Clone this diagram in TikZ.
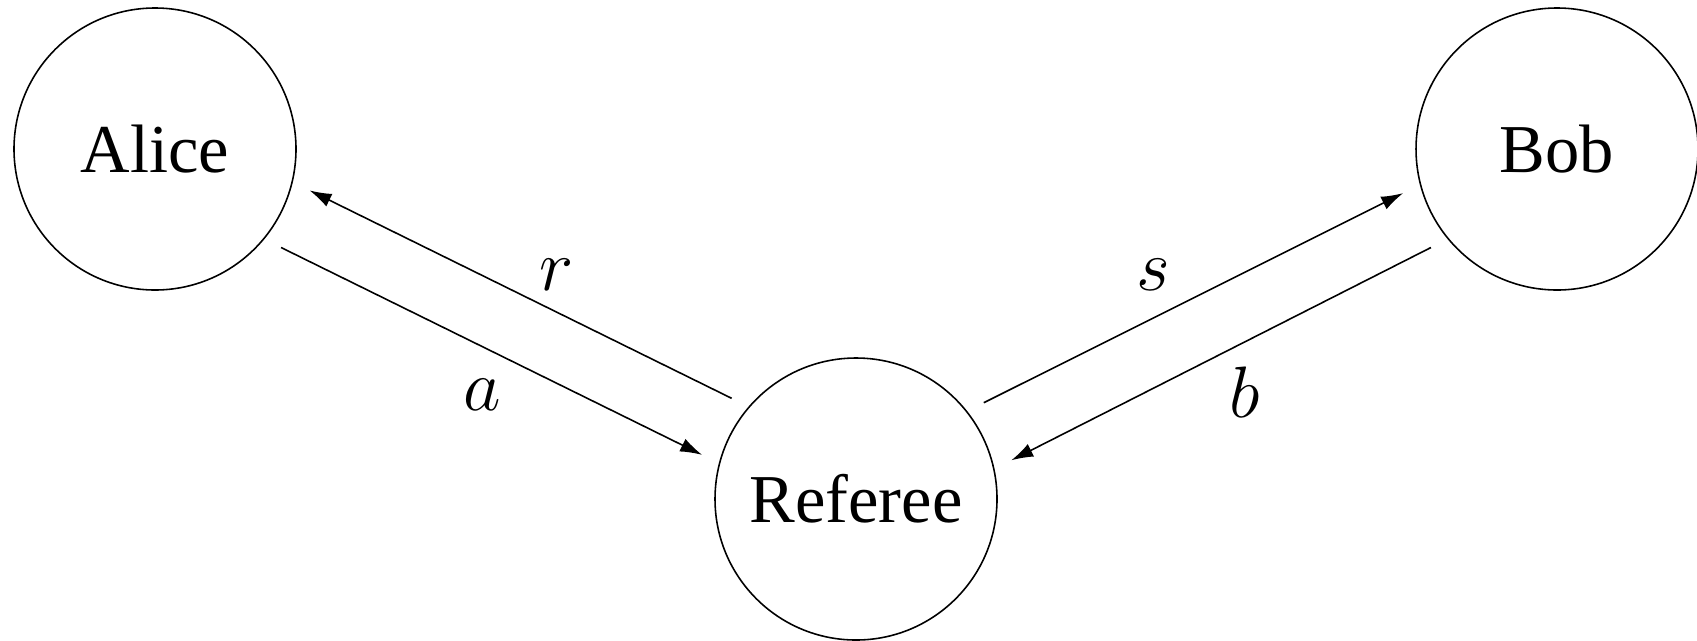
\documentclass[tikz,border=0pt]{standalone}
\usepackage{fontspec}
\setmainfont{Liberation Serif}
\usetikzlibrary{arrows.meta}
\begin{document}
\begin{tikzpicture}[x=0.1mm,y=-0.1mm,
  party/.style={circle,draw,line width=0.45pt,minimum size=28.2mm,inner sep=0pt,outer sep=1.9mm,font=\fontsize{19.5}{23}\selectfont},
  msg/.style={line width=0.45pt,-{Latex[length=2.2mm,width=1.4mm]}},
  lbl/.style={inner sep=0pt,font=\fontsize{19.5}{23}\selectfont}]
\useasboundingbox (0,0) rectangle (1697,640);
\node[party] (alice) at (155,149) {Alice};
\node[party] (bob) at (1557,149) {Bob};
\node[party] (referee) at (856,499) {Referee};
\draw[msg] (referee.141.8) -- (alice.-15.7);
\draw[msg] (alice.-38.2) -- (referee.164.6);
\draw[msg] (referee.37.4) -- (bob.-164.3);
\draw[msg] (bob.218.4) -- (referee.14.7);
\node[lbl] (lr) at (557,275) {$r$};
\node[lbl] (la) at (482,395) {$a$};
\node[lbl] (ls) at (1153,275) {$s$};
\node[lbl] (lb) at (1245,392) {$b$};
\end{tikzpicture}
\end{document}
